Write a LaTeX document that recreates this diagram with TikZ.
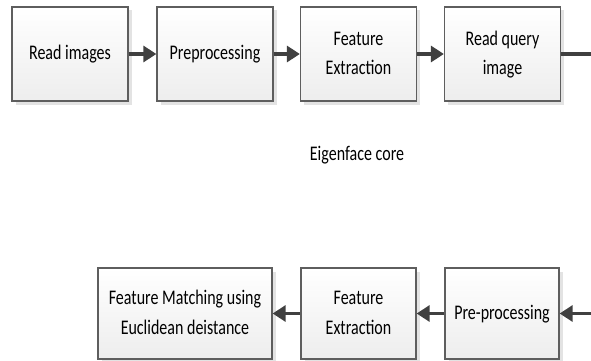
\documentclass[tikz,border=0pt]{standalone}
\usepackage{fontspec}
\setmainfont{Carlito}
\usetikzlibrary{arrows.meta,shadows}
\definecolor{edge}{HTML}{5E5E5E}
\definecolor{arrowc}{HTML}{404040}
\newcommand\vstr[1]{\scalebox{1}[1.3]{\begin{tabular}{@{}c@{}}#1\end{tabular}}}
\begin{document}
\begin{tikzpicture}[x=1pt,y=-1pt,
  blk/.style={draw=edge, line width=1.3pt, top color=white, bottom color=black!7,
    inner sep=0pt, align=center,
    drop shadow={shadow xshift=3.5pt, shadow yshift=-3.5pt, fill=black!11, opacity=1}},
  topblk/.style={blk, minimum width=116pt, minimum height=94pt},
  botblk/.style={blk, minimum width=115pt, minimum height=91pt},
  conn/.style={draw=arrowc, line width=3.3pt},
  arr/.style={conn, -{Triangle[length=13pt,width=16pt]}},
  every node/.append style={font=\fontsize{16}{23}\selectfont}
]
\useasboundingbox (0,0) rectangle (591,361);
\node[topblk] (ri) at (70,54) {\vstr{Read images}};
\node[topblk] (pp) at (215,54) {\vstr{Preprocessing}};
\node[topblk] (fe) at (358.5,54) {\vstr{Feature\\Extraction}};
\node[topblk] (rq) at (502.5,54) {\vstr{Read query\\image}};
\node (core) at (357,155) {\vstr{Eigenface core}};
\node[botblk, minimum width=174pt] (fm) at (185,313.5) {\vstr{Feature Matching using\\Euclidean deistance}};
\node[botblk] (fe2) at (358.5,313.5) {\vstr{Feature\\Extraction}};
\node[botblk, minimum width=114pt] (pp2) at (502,313.5) {\vstr{Pre-processing}};
\coordinate (r1) at (591,54);
\coordinate (r2) at (591,313.5);
\draw[arr] (ri) -- (pp);
\draw[arr] (pp) -- (fe);
\draw[arr] (fe) -- (rq);
\draw[conn] (rq) -- (r1);
\draw[arr] (r2) -- (pp2);
\draw[arr] (pp2) -- (fe2);
\draw[arr] (fe2) -- (fm);
\end{tikzpicture}
\end{document}
